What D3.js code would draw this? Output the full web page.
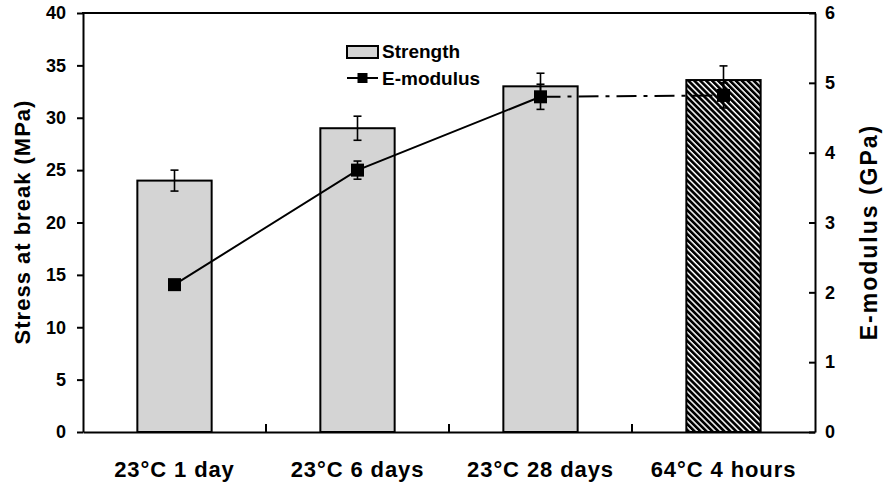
<!DOCTYPE html>
<html>
<head>
<meta charset="utf-8">
<script src="https://cdn.jsdelivr.net/npm/d3@7"></script>
<style>
  html, body { margin: 0; padding: 0; background: #fff; }
  svg { display: block; font-family: "Liberation Sans", Arial, sans-serif; font-weight: bold; }
</style>
</head>
<body>
<svg id="chart" width="885" height="486"></svg>
<script>
// Curing conditions on the x axis
const categories = ["23°C 1 day", "23°C 6 days", "23°C 28 days", "64°C 4 hours"];
// Stress at break (MPa) with standard deviation
const strength = [24.0, 29.0, 33.0, 33.6];
const strengthErr = [1.0, 1.15, 1.25, 1.35];
// E-modulus (GPa) with standard deviation
const modulus = [2.11, 3.75, 4.80, 4.82];
const modulusErr = [0.05, 0.13, 0.18, 0.18];
// Axis ticks
const leftTicks = [0, 5, 10, 15, 20, 25, 30, 35, 40];
const rightTicks = [0, 1, 2, 3, 4, 5, 6];

const svg = d3.select("#chart");
const L = 83, R = 815, T = 13, B = 432;

const x = d3.scaleBand().domain(categories).range([L, R]).padding(0);
const yL = d3.scaleLinear().domain([0, 40]).range([B, T]);
const yR = d3.scaleLinear().domain([0, 6]).range([B, T]);
const barW = x.bandwidth() * 0.406;
const cx = d => x(d) + x.bandwidth() / 2;

// hatch for the elevated-temperature bar
const defs = svg.append("defs");
const pat = defs.append("pattern")
  .attr("id", "hatch").attr("patternUnits", "userSpaceOnUse")
  .attr("width", 4.2).attr("height", 4.2)
  .attr("patternTransform", "rotate(-45)");
pat.append("rect").attr("width", 4.2).attr("height", 4.2).attr("fill", "#fff");
pat.append("rect").attr("x", 0).attr("width", 2.7).attr("height", 4.2).attr("fill", "#000");

// bars
svg.append("g").selectAll("rect").data(categories).join("rect")
  .attr("x", d => cx(d) - barW / 2)
  .attr("y", (d, i) => yL(strength[i]))
  .attr("width", barW)
  .attr("height", (d, i) => B - yL(strength[i]))
  .attr("fill", (d, i) => i === 3 ? "url(#hatch)" : "#d4d4d4")
  .attr("stroke", "#000").attr("stroke-width", 2);

// strength error bars
const errS = svg.append("g").attr("stroke", "#000").attr("stroke-width", 1.6);
categories.forEach((c, i) => {
  const xc = cx(c), y1 = yL(strength[i] + strengthErr[i]), y0 = yL(strength[i] - strengthErr[i]);
  errS.append("line").attr("x1", xc).attr("x2", xc).attr("y1", y1).attr("y2", y0);
  errS.append("line").attr("x1", xc - 4).attr("x2", xc + 4).attr("y1", y1).attr("y2", y1);
  errS.append("line").attr("x1", xc - 4).attr("x2", xc + 4).attr("y1", y0).attr("y2", y0);
});

// E-modulus line: solid for room-temperature curing, dash-dot to the heated sample
const pts = categories.map((c, i) => [cx(c), yR(modulus[i])]);
const line = d3.line();
svg.append("path").attr("d", line(pts.slice(0, 3)))
  .attr("fill", "none").attr("stroke", "#000").attr("stroke-width", 2);
svg.append("path").attr("d", line(pts.slice(2, 4)))
  .attr("fill", "none").attr("stroke", "#000").attr("stroke-width", 2)
  .attr("stroke-dasharray", "20,7,4,7");

// E-modulus error bars
const errE = svg.append("g").attr("stroke", "#000").attr("stroke-width", 1.6);
categories.forEach((c, i) => {
  const xc = cx(c), y1 = yR(modulus[i] + modulusErr[i]), y0 = yR(modulus[i] - modulusErr[i]);
  errE.append("line").attr("x1", xc).attr("x2", xc).attr("y1", y1).attr("y2", y0);
  errE.append("line").attr("x1", xc - 4).attr("x2", xc + 4).attr("y1", y1).attr("y2", y1);
  errE.append("line").attr("x1", xc - 4).attr("x2", xc + 4).attr("y1", y0).attr("y2", y0);
});

// markers
const ms = 13;
svg.append("g").selectAll("rect").data(pts).join("rect")
  .attr("x", d => d[0] - ms / 2).attr("y", d => d[1] - ms / 2)
  .attr("width", ms).attr("height", ms).attr("fill", "#000");

// axes
const axL = svg.append("g").attr("transform", `translate(${L},0)`)
  .call(d3.axisLeft(yL).tickValues(leftTicks).tickFormat(d3.format("d"))
    .tickSize(6).tickPadding(11).tickSizeOuter(0));
const axR = svg.append("g").attr("transform", `translate(${R},0)`)
  .call(d3.axisRight(yR).tickValues(rightTicks).tickFormat(d3.format("d"))
    .tickSize(-6).tickPadding(10).tickSizeOuter(0));
const axB = svg.append("g").attr("transform", `translate(0,${B})`)
  .call(d3.axisBottom(x).tickSize(0).tickPadding(29).tickSizeOuter(0));
[axL, axR, axB].forEach(a => {
  a.select(".domain").attr("stroke", "#000").attr("stroke-width", 2);
  a.selectAll(".tick line").attr("stroke", "#000").attr("stroke-width", 2);
  a.selectAll("text").attr("fill", "#000").attr("font-weight", "bold")
    .attr("font-family", "'Liberation Sans', Arial, sans-serif");
});
axL.selectAll("text").attr("font-size", 18);
axR.selectAll("text").attr("font-size", 18);
axB.selectAll("text").attr("font-size", 22).attr("letter-spacing", "0.9px");

// inward ticks between categories on the x axis
svg.append("g").selectAll("line").data(categories.slice(1)).join("line")
  .attr("x1", d => x(d)).attr("x2", d => x(d))
  .attr("y1", B).attr("y2", B - 8)
  .attr("stroke", "#000").attr("stroke-width", 2);

// top frame
svg.append("line").attr("x1", L - 1).attr("x2", R + 1).attr("y1", T).attr("y2", T)
  .attr("stroke", "#000").attr("stroke-width", 2);

// axis titles
svg.append("text").attr("transform", "translate(30,222) rotate(-90)")
  .attr("text-anchor", "middle").attr("font-size", 22).attr("letter-spacing", "1px")
  .text("Stress at break (MPa)");
svg.append("text").attr("transform", "translate(877,232) rotate(-90)")
  .attr("text-anchor", "middle").attr("font-size", 23).attr("letter-spacing", "2px")
  .text("E-modulus (GPa)");

// legend
const lg = svg.append("g");
lg.append("rect").attr("x", 347).attr("y", 46).attr("width", 31).attr("height", 12)
  .attr("fill", "#d4d4d4").attr("stroke", "#000").attr("stroke-width", 2);
lg.append("text").attr("x", 382).attr("y", 58).attr("font-size", 19).text("Strength");
lg.append("line").attr("x1", 347).attr("x2", 378).attr("y1", 78).attr("y2", 78)
  .attr("stroke", "#000").attr("stroke-width", 2);
lg.append("rect").attr("x", 362.5 - 5).attr("y", 73).attr("width", 10).attr("height", 10).attr("fill", "#000");
lg.append("text").attr("x", 382).attr("y", 85).attr("font-size", 19).text("E-modulus");
</script>
</body>
</html>
